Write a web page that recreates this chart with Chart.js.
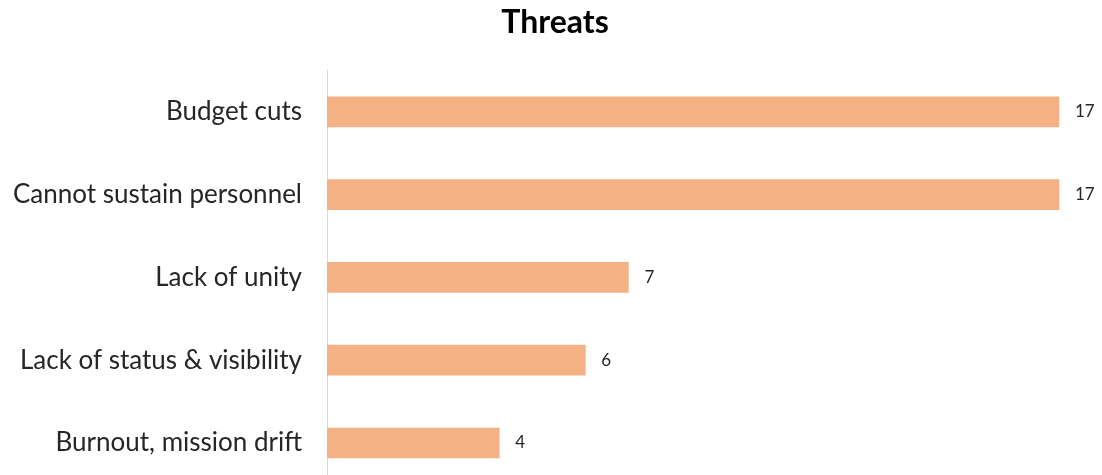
<!DOCTYPE html>
<html>
<head>
<meta charset="utf-8">
<script src="https://cdn.jsdelivr.net/npm/chart.js@4/dist/chart.umd.min.js"></script>
<style>
  html, body { margin: 0; padding: 0; background: #fff; overflow: hidden; }
  canvas { display: block; }
</style>
</head>
<body>
<canvas id="threatsChart" width="1102" height="517"></canvas>
<script>
// categories, top to bottom
var threats = ["Budget cuts", "Cannot sustain personnel", "Lack of unity", "Lack of status & visibility", "Burnout, mission drift"];
// counts for each threat
var counts = [17, 17, 7, 6, 4];

// writes the value just past the end of each bar
var barValues = {
  id: 'barValues',
  afterDatasetsDraw: function(chart) {
    var ctx = chart.ctx;
    var meta = chart.getDatasetMeta(0);
    ctx.save();
    ctx.font = '17px Lato, sans-serif';
    ctx.fillStyle = '#262626';
    ctx.textAlign = 'left';
    ctx.textBaseline = 'middle';
    meta.data.forEach(function(bar, i) {
      ctx.fillText(counts[i], bar.x + 16, bar.y);
    });
    ctx.restore();
  }
};

var ctx = document.getElementById("threatsChart");
var myChart = new Chart(ctx, {
  type: 'bar',
  data: {
    labels: threats,
    datasets: [
      {
        data: counts,
        backgroundColor: "#F4B183",
        borderWidth: 0,
        barThickness: 30
      }
    ]
  },
  options: {
    indexAxis: 'y',
    responsive: false,
    devicePixelRatio: 1,
    animation: false,
    layout: { padding: { left: 8, right: 0, top: 0, bottom: 0 } },
    plugins: {
      legend: { display: false },
      tooltip: { enabled: false },
      title: {
        display: true,
        text: 'Threats',
        color: '#000',
        font: { family: 'Lato, sans-serif', size: 32, weight: 'bold' },
        padding: { top: 3, bottom: 29 }
      }
    },
    scales: {
      x: {
        display: false,
        min: 0,
        max: 18
      },
      y: {
        afterFit: function(scale) { scale.width = 319; },
        grid: { display: false },
        border: { display: true, color: '#D9D9D9', width: 1 },
        ticks: {
          color: '#262626',
          padding: 17,
          font: { family: 'Lato, sans-serif', size: 26 }
        }
      }
    }
  },
  plugins: [barValues]
});
</script>
</body>
</html>
